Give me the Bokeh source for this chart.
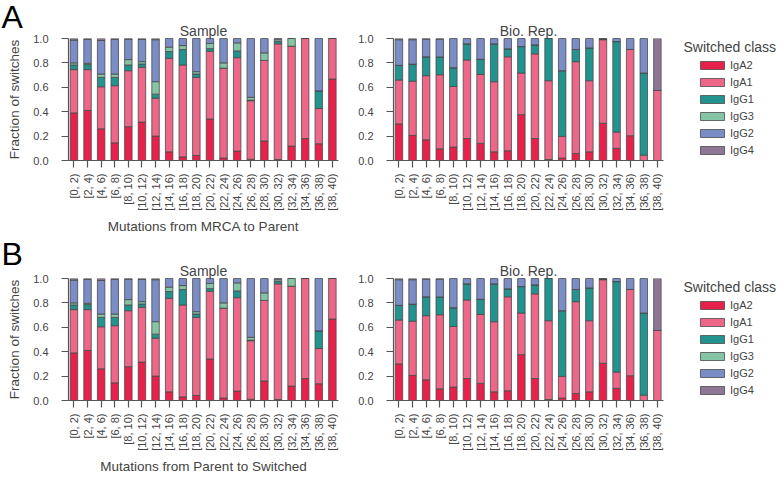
import math
from bokeh.plotting import figure
from bokeh.models import (ColumnDataSource, FixedTicker, PrintfTickFormatter,
                          Label, Legend, LegendItem, Range1d, Title)
from bokeh.layouts import row, column
from bokeh.embed import file_html
from bokeh.resources import INLINE

# ---------------- data ----------------
bins = ["[0, 2)", "[2, 4)", "[4, 6)", "[6, 8)", "[8, 10)", "[10, 12)", "[12, 14)",
        "[14, 16)", "[16, 18)", "[18, 20)", "[20, 22)", "[22, 24)", "[24, 26)",
        "[26, 28)", "[28, 30)", "[30, 32)", "[32, 34)", "[34, 36)", "[36, 38)", "[38, 40)"]
classes = ["IgA2", "IgA1", "IgG1", "IgG3", "IgG2", "IgG4"]
colors = ["#e8214b", "#ee6688", "#22938e", "#86c4a6", "#7b8dc6", "#8e7795"]

sample_IgA2 = [0.39, 0.41, 0.26, 0.145, 0.277, 0.315, 0.20, 0.071, 0.03, 0.041,
               0.34, 0.02, 0.077, 0.01, 0.16, 0.008, 0.118, 0.18, 0.137, 0.668]
sample_IgA1 = [0.355, 0.335, 0.344, 0.468, 0.459, 0.449, 0.311, 0.767, 0.753, 0.64,
               0.555, 0.737, 0.766, 0.48, 0.66, 0.948, 0.819, 0.82, 0.289, 0.332]
sample_IgG1 = [0.038, 0.041, 0.077, 0.068, 0.047, 0.027, 0.033, 0.055, 0.126, 0.028,
               0.022, 0.0, 0.055, 0.005, 0.0, 0.019, 0.0, 0.0, 0.145, 0.0]
sample_IgG3 = [0.017, 0.011, 0.028, 0.028, 0.044, 0.019, 0.102, 0.036, 0.033, 0.019,
               0.043, 0.043, 0.066, 0.023, 0.062, 0.015, 0.063, 0.0, 0.0, 0.0]
sample_IgG2 = [0.187, 0.196, 0.275, 0.284, 0.168, 0.183, 0.344, 0.071, 0.058, 0.272,
               0.04, 0.20, 0.036, 0.482, 0.118, 0.01, 0.0, 0.0, 0.429, 0.0]
sample_IgG4 = [0.013, 0.007, 0.016, 0.007, 0.005, 0.007, 0.01, 0.0, 0.0, 0.0,
               0.0, 0.0, 0.0, 0.0, 0.0, 0.0, 0.0, 0.0, 0.0, 0.0]

biorep_IgA2 = [0.30, 0.206, 0.17, 0.096, 0.11, 0.18, 0.14, 0.071, 0.08, 0.376,
               0.18, 0.008, 0.02, 0.058, 0.071, 0.305, 0.10, 0.203, 0.0, 0.0]
biorep_IgA1 = [0.36, 0.444, 0.525, 0.607, 0.497, 0.644, 0.566, 0.575, 0.77, 0.341,
               0.694, 0.646, 0.178, 0.752, 0.583, 0.685, 0.133, 0.707, 0.044, 0.574]
biorep_IgG1 = [0.12, 0.14, 0.155, 0.146, 0.153, 0.132, 0.124, 0.31, 0.065, 0.217,
               0.074, 0.346, 0.538, 0.10, 0.269, 0.005, 0.742, 0.0, 0.673, 0.0]
biorep_IgG3 = [0.0] * 20
biorep_IgG2 = [0.21, 0.20, 0.145, 0.146, 0.24, 0.044, 0.17, 0.044, 0.085, 0.066,
               0.052, 0.0, 0.264, 0.09, 0.077, 0.005, 0.025, 0.09, 0.283, 0.0]
biorep_IgG4 = [0.01, 0.01, 0.005, 0.005, 0.0, 0.0, 0.0, 0.0, 0.0, 0.0,
               0.0, 0.0, 0.0, 0.0, 0.0, 0.0, 0.0, 0.0, 0.0, 0.426]

sample_data = dict(IgA2=sample_IgA2, IgA1=sample_IgA1, IgG1=sample_IgG1,
                   IgG3=sample_IgG3, IgG2=sample_IgG2, IgG4=sample_IgG4)
biorep_data = dict(IgA2=biorep_IgA2, IgA1=biorep_IgA1, IgG1=biorep_IgG1,
                   IgG3=biorep_IgG3, IgG2=biorep_IgG2, IgG4=biorep_IgG4)

FONT = "Liberation Sans"
TXT = "#444444"
AX = "#555555"
FH = 122
EDGE = "#4a4a4a"


def style_title(t, size="14px", color=TXT):
    t.text_font = FONT
    t.text_font_size = size
    t.text_font_style = "normal"
    t.text_color = color


def make_panel(title, data, width, height, top, left, right,
               ylabel=None, xlabel=None, letter=None, letter_standoff=0):
    bottom = height - top - FH
    p = figure(width=width, height=height, output_backend="svg", toolbar_location=None,
               x_range=Range1d(-0.4, 19.45), y_range=Range1d(0, 1),
               min_border_left=left, min_border_right=right,
               min_border_top=top, min_border_bottom=bottom)
    p.outline_line_color = None
    p.grid.visible = False
    p.background_fill_color = "white"
    p.border_fill_color = "white"

    if letter:
        # panel letter is the outermost title; the panel name sits next to the frame
        p.title.text = letter
        p.title.align = "left"
        p.title.offset = -(left - 1)
        p.title.standoff = letter_standoff
        style_title(p.title, "32px", "black")
        t = Title(text=title, align="center", standoff=0)
        style_title(t)
        p.add_layout(t, "above")
    else:
        p.title.text = title
        p.title.align = "center"
        p.title.standoff = 0
        style_title(p.title)

    src = ColumnDataSource(dict(x=list(range(len(bins))), **data))
    p.vbar_stack(classes, x="x", width=0.55, source=src,
                 fill_color=colors, line_color=EDGE, line_width=0.8)

    for ax in p.axis:
        ax.axis_line_color = AX
        ax.axis_line_width = 1.2
        ax.major_tick_line_color = AX
        ax.major_tick_line_width = 1.2
        ax.minor_tick_line_color = None
        ax.major_tick_in = 0
        ax.major_tick_out = 7
        ax.major_label_text_font = FONT
        ax.major_label_text_font_size = "11px"
        ax.major_label_text_color = TXT
        ax.axis_label_text_font = FONT
        ax.axis_label_text_font_size = "13.5px"
        ax.axis_label_text_font_style = "normal"
        ax.axis_label_text_color = TXT

    p.yaxis.ticker = FixedTicker(ticks=[0.0, 0.2, 0.4, 0.6, 0.8, 1.0])
    p.yaxis.formatter = PrintfTickFormatter(format="%.1f")
    p.yaxis.major_label_standoff = 13
    p.xaxis.ticker = FixedTicker(ticks=list(range(len(bins))))
    p.xaxis.major_label_overrides = {i: b for i, b in enumerate(bins)}
    p.xaxis.major_label_orientation = math.pi / 2
    p.xaxis.major_label_standoff = 6

    if ylabel:
        p.yaxis.axis_label = ylabel
        p.yaxis.axis_label_standoff = 8
    if xlabel:
        p.xaxis.axis_label = xlabel
        p.xaxis.axis_label_standoff = 5
    return p


def make_legend_fig(width, height, top, data):
    # same frame rows as the bar panels; legend and its title sit inside the frame
    p = figure(width=width, height=height, output_backend="svg", toolbar_location=None,
               x_range=Range1d(-200, -199), y_range=Range1d(0, 1),
               x_axis_location=None, y_axis_location=None,
               min_border_left=11, min_border_right=0,
               min_border_top=top, min_border_bottom=height - top - FH)
    p.outline_line_color = None
    p.grid.visible = False
    p.title.text = ""
    src = ColumnDataSource(dict(x=list(range(len(bins))), **data))
    rs = p.vbar_stack(classes, x="x", width=0.55, source=src,
                      fill_color=colors, line_color=EDGE, line_width=0.8)
    items = [LegendItem(label=c, renderers=[r]) for c, r in zip(classes, rs)]
    lg = Legend(items=items, location="top_left",
                glyph_width=30, glyph_height=10, label_height=10, spacing=5,
                padding=0, margin=21, border_line_color=None, background_fill_alpha=0,
                label_text_font=FONT, label_text_font_size="11px",
                label_text_color=TXT, label_standoff=3)
    p.add_layout(lg)
    p.add_layout(Label(x=7, y=FH - 8, x_units="screen", y_units="screen",
                       text="Switched class", text_font=FONT, text_font_size="14px",
                       text_color=TXT, text_baseline="middle"))
    return p


HA, HB = 236, 242
a1 = make_panel("Sample", sample_data, 343, HA, 38, 68, 5,
                ylabel="Fraction of switches", xlabel="Mutations from MRCA to Parent",
                letter="A", letter_standoff=-28)
a2 = make_panel("Bio. Rep.", biorep_data, 322, HA, 38, 50, 2)
a3 = make_legend_fig(118, HA, 38, biorep_data)
b1 = make_panel("Sample", sample_data, 343, HB, 42, 68, 5,
                ylabel="Fraction of switches", xlabel="Mutations from Parent to Switched",
                letter="B", letter_standoff=-23)
b2 = make_panel("Bio. Rep.", biorep_data, 322, HB, 42, 50, 2)
b3 = make_legend_fig(118, HB, 42, biorep_data)

layout = column(row(a1, a2, a3), row(b1, b2, b3))
open("out.html", "w").write(file_html(layout, INLINE))
